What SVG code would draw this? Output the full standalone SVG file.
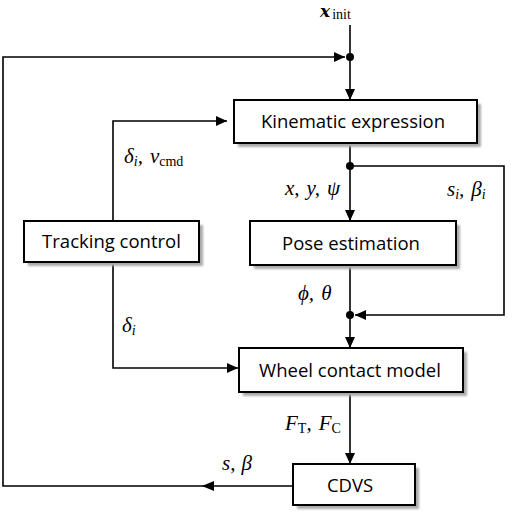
<svg xmlns="http://www.w3.org/2000/svg" width="512" height="513" viewBox="0 0 512 513">
<style>
.box{fill:#fff;stroke:#000;stroke-width:2}
.sh{fill:#aaa;filter:url(#blur)}
.lbl{font-family:"Open Sans","Noto Sans",sans-serif;font-size:18.5px;fill:#000;text-anchor:middle}
.m{font-family:"Liberation Serif","DejaVu Serif",serif;font-style:italic;font-size:21px;fill:#000}
.sub{font-style:normal;font-size:14px}
.subi{font-size:14px}
.ln{fill:none;stroke:#000;stroke-width:1.6}
</style>
<defs>
<filter id="blur" x="-10%" y="-10%" width="120%" height="130%"><feGaussianBlur stdDeviation="1.2"/></filter>
<marker id="ah" markerUnits="userSpaceOnUse" markerWidth="12" markerHeight="10" refX="11" refY="5" orient="auto">
<path d="M0,0 L11,5 L0,10 Z" fill="#000"/>
</marker>
</defs>
<rect width="512" height="513" fill="#fff"/>

<g id="connectors">
<line class="ln" x1="350" y1="25" x2="350" y2="100" marker-end="url(#ah)"/>
<polyline class="ln" points="293,486 3,486 3,57 345,57" marker-end="url(#ah)"/>
<path d="M202,486 L214,481 L214,491 Z" fill="#000"/>
<polyline class="ln" points="113,221 113,121 227,121" marker-end="url(#ah)"/>
<line class="ln" x1="350" y1="143" x2="350" y2="221" marker-end="url(#ah)"/>
<polyline class="ln" points="350,166 504,166 504,315 355,315" marker-end="url(#ah)"/>
<line class="ln" x1="350" y1="265" x2="350" y2="348" marker-end="url(#ah)"/>
<polyline class="ln" points="113,262 113,368 238,368" marker-end="url(#ah)"/>
<line class="ln" x1="350" y1="392" x2="350" y2="464" marker-end="url(#ah)"/>
<circle cx="350" cy="57" r="4" fill="#000"/>
<circle cx="350" cy="166" r="4" fill="#000"/>
<circle cx="350" cy="315" r="4" fill="#000"/>
</g>

<g id="kinematic">
<rect class="sh" x="238" y="104" width="243" height="43"/>
<rect class="box" x="234" y="100" width="243" height="43"/>
<text class="lbl" x="353" y="128">Kinematic expression</text>
</g>
<g id="tracking">
<rect class="sh" x="28" y="225" width="175" height="41"/>
<rect class="box" x="24" y="221" width="175" height="41"/>
<text class="lbl" x="111.5" y="248">Tracking control</text>
</g>
<g id="pose">
<rect class="sh" x="254" y="225" width="206" height="44"/>
<rect class="box" x="250" y="221" width="206" height="44"/>
<text class="lbl" x="351" y="249.5">Pose estimation</text>
</g>
<g id="wheel">
<rect class="sh" x="243" y="352" width="224" height="44"/>
<rect class="box" x="239" y="348" width="224" height="44"/>
<text class="lbl" x="350" y="376.5">Wheel contact model</text>
</g>
<g id="cdvs">
<rect class="sh" x="297" y="468" width="122" height="41"/>
<rect class="box" x="293" y="464" width="122" height="41"/>
<text class="lbl" x="350" y="491.5">CDVS</text>
</g>

<g id="labels">
<text class="m" x="320" y="17" font-size="14"><tspan font-family="DejaVu Serif" font-weight="bold" font-size="17">x</tspan><tspan class="sub" font-size="15" dx="2" dy="2">init</tspan></text>
<text class="m" x="124" y="163">δ<tspan class="subi" dy="3">i</tspan><tspan dy="-3">,</tspan><tspan dx="7">v</tspan><tspan class="sub" dy="3">cmd</tspan></text>
<text class="m" x="285" y="195">x,<tspan dx="7">y,</tspan><tspan dx="7">ψ</tspan></text>
<text class="m" x="447" y="196">s<tspan class="subi" dy="3">i</tspan><tspan dy="-3">,</tspan><tspan dx="7">β</tspan><tspan class="subi" dy="3">i</tspan></text>
<text class="m" x="298" y="300">ϕ,<tspan dx="7">θ</tspan></text>
<text class="m" x="122" y="332">δ<tspan class="subi" dy="3">i</tspan></text>
<text class="m" x="285" y="430">F<tspan class="sub" dy="3">T</tspan><tspan dy="-3">,</tspan><tspan dx="7">F</tspan><tspan class="sub" dy="3">C</tspan></text>
<text class="m" x="222" y="470">s,<tspan dx="6">β</tspan></text>
</g>
</svg>
